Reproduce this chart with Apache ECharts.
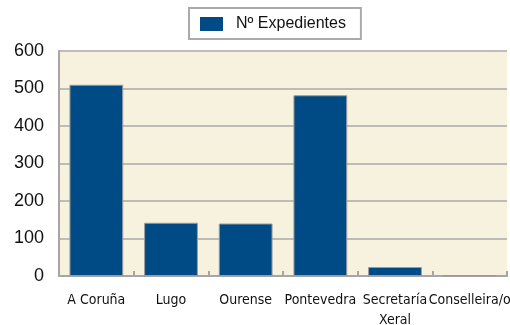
<!DOCTYPE html>
<html>
<head>
<meta charset="utf-8">
<script src="https://cdn.jsdelivr.net/npm/echarts@6/dist/echarts.min.js"></script>
<style>
  html, body { margin: 0; padding: 0; background: #fff; }
  #chart { width: 510px; height: 325px; }
</style>
</head>
<body>
<div id="chart"></div>
<script>
// Expedientes por provincia / órgano
const categories = ['A Coruña', 'Lugo', 'Ourense', 'Pontevedra', 'Secretaría\nXeral', 'Conselleira/o'];
const expedientes = [510, 142, 140, 482, 24, 2];
const seriesName = 'Nº Expedientes';
const yTicks = { min: 0, max: 600, interval: 100 };

const chart = echarts.init(document.getElementById('chart'));
chart.setOption({
  animation: false,
  legend: {
    data: [seriesName],
    top: 8,
    left: 189,
    padding: [8, 15, 7, 11],
    icon: 'rect',
    itemWidth: 23,
    itemHeight: 14,
    itemGap: 10,
    itemStyle: { borderWidth: 0 },
    borderColor: '#aaaaaa',
    borderWidth: 2,
    backgroundColor: '#ffffff',
    textStyle: { fontFamily: 'Liberation Sans, Arial, sans-serif', fontSize: 16, color: '#111', padding: [0, 0, 0, 8] }
  },
  grid: {
    left: 59, right: 3, top: 51, bottom: 49,
    outerBoundsMode: 'none',
    containLabel: false,
    show: true,
    backgroundColor: '#f6f2dd',
    borderWidth: 0
  },
  xAxis: {
    type: 'category',
    data: categories,
    axisLine: { lineStyle: { color: '#a6a6a6', width: 2 } },
    axisTick: { show: true, inside: true, length: 5, alignWithLabel: false, lineStyle: { color: '#a6a6a6', width: 2 } },
    axisLabel: {
      fontFamily: 'Liberation Sans Narrow, DejaVu Sans Condensed, sans-serif',
      fontSize: 14,
      color: '#111',
      margin: 14,
      lineHeight: 20,
      interval: 0
    }
  },
  yAxis: {
    type: 'value',
    min: yTicks.min,
    max: yTicks.max,
    interval: yTicks.interval,
    axisLine: { show: true, lineStyle: { color: '#a6a6a6', width: 2 } },
    axisTick: { show: false },
    splitLine: { show: true, lineStyle: { color: '#a8a8a8', width: 1.5 } },
    axisLabel: {
      fontFamily: 'Liberation Sans, Arial, sans-serif',
      fontSize: 18,
      color: '#111',
      margin: 15
    }
  },
  series: [{
    name: seriesName,
    type: 'bar',
    data: expedientes,
    barCategoryGap: '28%',
    itemStyle: { color: '#004b86', borderColor: '#9a9a9a', borderWidth: 1 }
  }]
});
</script>
</body>
</html>
